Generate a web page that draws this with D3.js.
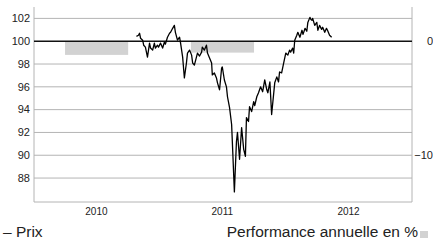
<!DOCTYPE html>
<html>
<head>
<meta charset="utf-8">
<script src="https://cdn.jsdelivr.net/npm/d3@7"></script>
<style>
  body { margin: 0; background: #fff; }
  svg { font-family: "Liberation Sans", Arial, Helvetica, sans-serif; }
  .grid line { stroke: #b4b4b4; stroke-width: 1; }
  .tick-label { font-size: 11px; fill: #222; }
</style>
</head>
<body>
<div id="chart"></div>
<script>
// x axis labels (one per year)
const yearLabels = ["2010", "2011", "2012"];

// left axis ticks (price) and right axis ticks (performance)
const priceTicks = [88, 90, 92, 94, 96, 98, 100, 102];
const perfTicks = [0, -10];

// annual performance in %
const perfYears = [2010, 2011];
const perfValues = [-1.2, -1.0];

// price series
const priceDates = [
    "2010-10-25", "2010-10-31", "2010-11-03", "2010-11-06", "2010-11-12", "2010-11-15",
    "2010-11-20", "2010-11-26", "2010-12-02", "2010-12-05", "2010-12-11", "2010-12-16",
    "2010-12-19", "2010-12-25", "2010-12-28", "2011-01-03", "2011-01-09", "2011-01-14",
    "2011-01-17", "2011-01-23", "2011-01-29", "2011-02-01", "2011-02-07", "2011-02-12",
    "2011-02-15", "2011-02-21", "2011-02-27", "2011-03-02", "2011-03-08", "2011-03-13",
    "2011-03-19", "2011-03-22", "2011-03-28", "2011-04-03", "2011-04-06", "2011-04-11",
    "2011-04-17", "2011-04-20", "2011-04-26", "2011-05-02", "2011-05-04", "2011-05-10",
    "2011-05-16", "2011-05-19", "2011-05-25", "2011-05-31", "2011-06-02", "2011-06-08",
    "2011-06-14", "2011-06-17", "2011-06-23", "2011-06-29", "2011-07-01", "2011-07-07",
    "2011-07-13", "2011-07-16", "2011-07-22", "2011-07-28", "2011-07-31", "2011-08-05",
    "2011-08-11", "2011-08-14", "2011-08-20", "2011-08-26", "2011-09-01", "2011-09-06",
    "2011-09-09", "2011-09-15", "2011-09-18", "2011-09-24", "2011-09-30", "2011-10-03",
    "2011-10-09", "2011-10-14", "2011-10-20", "2011-10-26", "2011-11-01", "2011-11-07",
    "2011-11-10", "2011-11-16", "2011-11-21", "2011-11-30", "2011-12-06", "2011-12-11",
    "2011-12-14", "2011-12-20", "2011-12-26", "2012-01-01", "2012-01-07", "2012-01-12",
    "2012-01-15", "2012-01-21", "2012-01-24", "2012-01-27", "2012-02-02", "2012-02-05",
    "2012-02-11", "2012-02-17", "2012-02-20", "2012-02-26", "2012-03-02", "2012-03-05",
    "2012-03-11", "2012-03-14", "2012-03-17", "2012-03-19", "2012-03-25", "2012-03-31",
    "2012-04-03", "2012-04-08", "2012-04-14", "2012-04-17", "2012-04-23", "2012-04-28",
    "2012-05-01", "2012-05-07", "2012-05-13"
];
const priceValues = [
    100.43, 100.52, 100.7, 100.26, 100.09, 99.65,
    99.48, 98.6, 99.83, 99.4, 99.22, 99.83,
    99.4, 99.65, 99.48, 99.83, 99.4, 99.91,
    99.74, 100.35, 100.7, 100.78, 101.13, 101.39,
    100.78, 100.09, 100.35, 99.83, 98.6, 96.78,
    98.09, 98.96, 99.22, 98.78, 98.09, 97.91,
    98.6, 98.96, 98.7, 99.04, 99.48, 99.22,
    99.65, 98.96, 98.52, 98.09, 97.04, 97.22,
    96.78, 96.35, 95.74, 97.65, 97.74, 96.6,
    96.0, 95.13, 94.17, 92.7, 90.5, 86.78,
    91.2, 92.0, 89.65, 92.43, 90.52, 89.91,
    93.3, 92.96, 94.26, 93.83, 94.7, 94.35,
    95.13, 95.48, 96.0, 95.57, 96.61, 95.74,
    95.48, 96.43, 93.57, 96.35, 96.87, 96.43,
    97.3, 97.22, 98.09, 98.96, 98.78, 99.22,
    99.04, 99.39, 98.96, 100.09, 100.52, 100.78,
    100.35, 100.96, 100.6, 101.13, 100.87, 101.65,
    102.09, 101.91, 101.83, 102.0, 101.39, 101.65,
    100.96, 101.39, 101.04, 101.22, 100.78, 101.13,
    100.96, 100.52, 100.35
];

const width = 433, height = 243;
const margin = {top: 7, right: 21, bottom: 41, left: 34};
const innerW = width - margin.left - margin.right;
const innerH = height - margin.top - margin.bottom;

const parse = d3.timeParse("%Y-%m-%d");
const series = priceDates.map((d, i) => ({date: parse(d), value: priceValues[i]}));

const svg = d3.select("#chart").append("svg")
    .attr("width", width)
    .attr("height", height);

const g = svg.append("g")
    .attr("transform", "translate(" + margin.left + "," + margin.top + ")");

const x = d3.scaleTime()
    .domain([new Date(2010, 0, 1), new Date(2013, 0, 1)])
    .range([0, innerW]);

const y = d3.scaleLinear()
    .domain([85.9, 103])
    .range([innerH, 0]);

// performance shares the same pixel scale, offset by 100
const y2 = d3.scaleLinear()
    .domain([85.9 - 100, 103 - 100])
    .range([innerH, 0]);

// grid lines
g.append("g")
    .attr("class", "grid")
    .selectAll("line")
    .data(priceTicks.filter(d => d !== 100))
    .enter().append("line")
    .attr("x1", 0)
    .attr("x2", innerW)
    .attr("y1", d => y(d))
    .attr("y2", d => y(d));

// performance bars (half a year wide, centred on the year)
g.append("g")
    .selectAll("rect")
    .data(perfYears.map((yr, i) => ({year: yr, value: perfValues[i]})))
    .enter().append("rect")
    .attr("x", d => x(new Date(d.year, 3, 1)))
    .attr("width", d => x(new Date(d.year, 9, 1)) - x(new Date(d.year, 3, 1)))
    .attr("y", d => Math.min(y2(0), y2(d.value)))
    .attr("height", d => Math.abs(y2(d.value) - y2(0)))
    .attr("fill", "#d2d2d2");

// frame: left, right, bottom
g.append("line").attr("x1", 0).attr("x2", 0).attr("y1", 0).attr("y2", innerH)
    .attr("stroke", "#b4b4b4");
g.append("line").attr("x1", innerW).attr("x2", innerW).attr("y1", 0).attr("y2", innerH)
    .attr("stroke", "#b4b4b4");
g.append("line").attr("x1", 0).attr("x2", innerW).attr("y1", innerH).attr("y2", innerH)
    .attr("stroke", "#b4b4b4");

// 100 reference line
g.append("line")
    .attr("x1", 0).attr("x2", innerW)
    .attr("y1", y(100)).attr("y2", y(100))
    .attr("stroke", "#111")
    .attr("stroke-width", 1.5);

// price line
const line = d3.line()
    .x(d => x(d.date))
    .y(d => y(d.value));

g.append("path")
    .datum(series)
    .attr("fill", "none")
    .attr("stroke", "#000")
    .attr("stroke-width", 1.3)
    .attr("stroke-linejoin", "round")
    .attr("d", line);

// left tick labels
g.append("g")
    .selectAll("text")
    .data(priceTicks)
    .enter().append("text")
    .attr("class", "tick-label")
    .attr("x", -4)
    .attr("y", d => y(d))
    .attr("dy", "0.35em")
    .attr("text-anchor", "end")
    .text(d => d);

// right tick labels
g.append("g")
    .selectAll("text")
    .data(perfTicks)
    .enter().append("text")
    .attr("class", "tick-label")
    .attr("x", innerW + 21)
    .attr("y", d => y2(d))
    .attr("dy", "0.35em")
    .attr("text-anchor", "end")
    .text(d => d < 0 ? "\u2212" + Math.abs(d) : d);

// year labels centred in each year
g.append("g")
    .selectAll("text")
    .data(yearLabels)
    .enter().append("text")
    .attr("class", "tick-label")
    .attr("x", d => x(new Date(+d, 6, 1)))
    .attr("y", innerH + 13)
    .attr("text-anchor", "middle")
    .style("font-size", "10px")
    .text(d => d);

// legend
svg.append("text")
    .attr("x", 3)
    .attr("y", 237)
    .style("font-size", "15.5px")
    .attr("fill", "#222")
    .text("\u2013 Prix");

svg.append("text")
    .attr("x", 418)
    .attr("y", 237)
    .attr("text-anchor", "end")
    .style("font-size", "15.5px")
    .attr("fill", "#222")
    .text("Performance annuelle en %");

svg.append("rect")
    .attr("x", 420)
    .attr("y", 231)
    .attr("width", 8)
    .attr("height", 7)
    .attr("fill", "#d2d2d2");
</script>
</body>
</html>
